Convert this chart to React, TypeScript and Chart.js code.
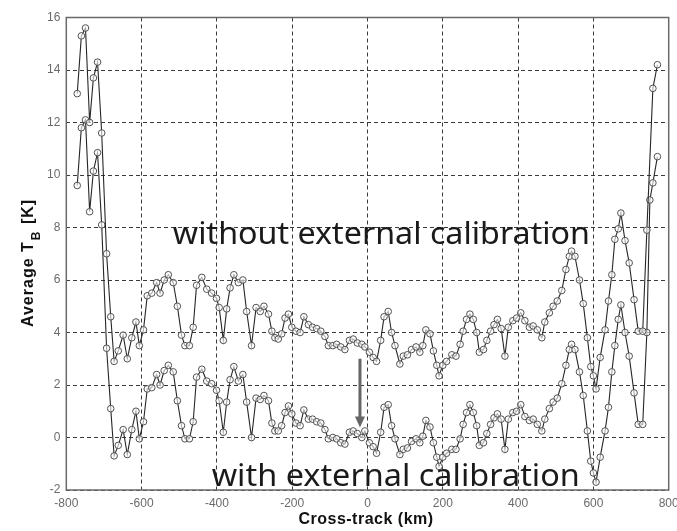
import React, { useEffect, useRef } from "react";
import { Chart, registerables } from "chart.js";

Chart.register(...registerables);

// ---- data ----
const crossTrackKm = [
  -771, -760, -749, -738, -728, -717, -706, -693, -682, -673,
  -662, -649, -638, -626, -615, -606, -595, -585, -573, -560,
  -551, -540, -529, -516, -505, -494, -485, -473, -463, -454,
  -440, -427, -414, -401, -394, -383, -374, -365, -355, -343,
  -331, -321, -308, -296, -285, -275, -263, -254, -246, -237,
  -228, -219, -210, -201, -190, -179, -169, -157, -146, -135,
  -124, -113, -104, -92, -82, -71, -60, -48, -38, -27,
  -15, -7, 5, 15, 24, 35, 44, 55, 64, 73,
  86, 95, 106, 117, 129, 139, 147, 155, 166, 175,
  184, 190, 200, 210, 224, 235, 246, 254, 263, 272,
  281, 290, 297, 308, 317, 327, 336, 345, 355, 365,
  374, 386, 396, 407, 418, 430, 440, 451, 463, 471,
  483, 493, 504, 516, 527, 536, 542, 551, 563, 573,
  584, 593, 600, 607, 618, 631, 640, 649, 657, 666,
  673, 684, 695, 708, 719, 731, 742, 750, 758, 770,
];

const withoutExternalCal: (number | null)[] = [
  13.1, 15.3, 15.6, 12.0, 13.7, 14.3, 11.6, 7.0, 4.6, 2.9,
  3.3, 3.9, 3.0, 3.8, 4.4, 3.5, 4.1, 5.4, 5.5, 5.9,
  5.5, 6.0, 6.2, 5.9, 5.0, 3.9, 3.5, 3.5, 4.2, 5.8,
  6.1, 5.65, 5.5, 5.3, 4.95, 3.7, 4.9, 5.7, 6.2, 5.9,
  6.0, 4.8, 3.5, 4.95, 4.8, 5.0, 4.7, 4.05, 3.8, 3.75,
  3.95, 4.55, 4.7, 4.2, 4.05, 4.0, 4.6, 4.3, 4.2, 4.15,
  4.05, 3.85, 3.5, 3.5, 3.55, 3.45, 3.35, 3.7, 3.75, 3.6,
  3.55, 3.45, 3.25, 3.05, 2.9, 3.7, 4.6, 4.8, 4.0, 3.5,
  2.8, 3.1, 3.15, 3.35, 3.45, 3.25, 3.5, 4.1, 3.95, 3.3,
  2.75, 2.35, 2.75, 2.9, 3.15, 3.1, 3.55, 4.05, 4.5, 4.7,
  4.5, 4.0, 3.25, 3.35, 3.7, 4.05, 4.3, 4.5, 4.15, 3.1,
  4.2, 4.45, 4.55, 4.75, 4.45, 4.2, 4.25, 4.1, 3.8, 4.4,
  4.75, 5.0, 5.2, 5.6, 6.4, 6.9, 7.1, 6.9, 6.0, 5.1,
  3.8, 2.7, 2.35, 1.85, 3.05, 4.1, 5.2, 6.2, 7.55, 7.95,
  8.55, 7.5, 6.65, 5.25, 4.05, 4.05, 7.9, null, 13.3, 14.2,
];

const withExternalCal: (number | null)[] = [
  9.6, 11.8, 12.1, 8.6, 10.15, 10.85, 8.1, 3.4, 1.1, -0.7,
  -0.3, 0.3, -0.65, 0.3, 1.0, -0.05, 0.6, 1.85, 1.9, 2.4,
  2.0, 2.55, 2.75, 2.5, 1.4, 0.45, -0.05, -0.05, 0.6, 2.3,
  2.6, 2.15, 2.05, 1.8, 1.4, 0.2, 1.35, 2.2, 2.7, 2.15,
  2.4, 1.35, 0.0, 1.5, 1.45, 1.6, 1.4, 0.55, 0.25, 0.25,
  0.45, 0.95, 1.2, 0.9, 0.55, 0.45, 1.05, 0.7, 0.7, 0.6,
  0.55, 0.3, -0.05, 0.0, -0.05, -0.2, -0.25, 0.2, 0.25, 0.15,
  0.0, 0.25, -0.2, -0.35, -0.6, 0.2, 1.15, 1.25, 0.45, -0.05,
  -0.65, -0.45, -0.4, -0.15, -0.05, -0.2, 0.05, 0.65, 0.4, -0.2,
  -0.75, -1.1, -0.75, -0.6, -0.45, -0.45, -0.05, 0.5, 0.95, 1.25,
  0.95, 0.45, -0.3, -0.2, 0.15, 0.5, 0.75, 0.9, 0.7, -0.45,
  0.7, 0.95, 1.0, 1.25, 0.8, 0.65, 0.7, 0.5, 0.25, 0.7,
  1.1, 1.35, 1.5, 2.05, 2.75, 3.35, 3.55, 3.35, 2.5, 1.6,
  0.25, -0.9, -1.35, -1.7, -0.75, 0.25, 1.15, 2.5, 3.5, 4.5,
  5.05, 4.0, 3.1, 1.7, 0.5, 0.5, 4.0, 9.05, 9.7, 10.7,
];

const xTickValues = [-800, -600, -400, -200, 0, 200, 400, 600, 800];
const yTickValues = [-2, 0, 2, 4, 6, 8, 10, 12, 14, 16];

const labelWithout = "without external calibration";
const labelWith = "with external calibration";
const xAxisTitle = "Cross-track (km)";
const yAxisTitleMain = "Average T";
const yAxisTitleSub = "B";
const yAxisTitleUnit = " [K]";

// annotation anchors in data units: [xStart, xEnd, baseline y]
const withoutLabelAnchor = [-517, 591, 7.36];
const withLabelAnchor = [-414, 564, -1.84];
// arrow: [x, yFrom, yTo]
const arrowAnchor = [-20, 3.0, 0.38];

const overlayPlugin = {
  id: "overlay",
  afterDraw(chart: any) {
    const { ctx, chartArea, scales } = chart;
    const xs = scales.x;
    const ys = scales.y;
    ctx.save();

    // frame
    ctx.strokeStyle = "#6a6a6a";
    ctx.lineWidth = 1.5;
    ctx.setLineDash([]);
    ctx.strokeRect(
      chartArea.left,
      chartArea.top,
      chartArea.right - chartArea.left,
      chartArea.bottom - chartArea.top
    );

    // annotation labels
    const drawFit = (text: string, anchor: number[]) => {
      ctx.save();
      ctx.font = '30px "Noto Sans", "DejaVu Sans", sans-serif';
      ctx.fillStyle = "#1a1a1a";
      ctx.textBaseline = "alphabetic";
      ctx.textAlign = "left";
      const x0 = xs.getPixelForValue(anchor[0]);
      const x1 = xs.getPixelForValue(anchor[1]);
      const yb = ys.getPixelForValue(anchor[2]);
      const w = ctx.measureText(text).width;
      ctx.translate(x0, yb);
      ctx.scale((x1 - x0) / w, 1);
      ctx.fillText(text, 0, 0);
      ctx.restore();
    };
    drawFit(labelWithout, withoutLabelAnchor);
    drawFit(labelWith, withLabelAnchor);

    // arrow
    const ax = xs.getPixelForValue(arrowAnchor[0]);
    const ay0 = ys.getPixelForValue(arrowAnchor[1]);
    const ay1 = ys.getPixelForValue(arrowAnchor[2]);
    ctx.strokeStyle = "#666";
    ctx.fillStyle = "#666";
    ctx.lineWidth = 3;
    ctx.beginPath();
    ctx.moveTo(ax, ay0);
    ctx.lineTo(ax, ay1 - 9);
    ctx.stroke();
    ctx.beginPath();
    ctx.moveTo(ax - 5, ay1 - 11);
    ctx.lineTo(ax + 5, ay1 - 11);
    ctx.lineTo(ax, ay1);
    ctx.closePath();
    ctx.fill();

    // x axis title
    ctx.fillStyle = "#111";
    ctx.font = 'bold 16px "Liberation Sans", Arial, sans-serif';
    (ctx as any).letterSpacing = "0.5px";
    ctx.textAlign = "center";
    ctx.textBaseline = "middle";
    ctx.fillText(xAxisTitle, 366, 520);

    // y axis title with subscript
    ctx.save();
    ctx.translate(33, 327);
    ctx.rotate(-Math.PI / 2);
    ctx.textAlign = "left";
    ctx.textBaseline = "alphabetic";
    ctx.font = 'bold 16px "Liberation Sans", Arial, sans-serif';
    (ctx as any).letterSpacing = "1px";
    ctx.fillText(yAxisTitleMain, 0, 0);
    const w1 = ctx.measureText(yAxisTitleMain).width;
    ctx.font = 'bold 12px "Liberation Sans", Arial, sans-serif';
    ctx.fillText(yAxisTitleSub, w1 + 1, 7);
    const w2 = ctx.measureText(yAxisTitleSub).width;
    ctx.font = 'bold 16px "Liberation Sans", Arial, sans-serif';
    ctx.fillText(yAxisTitleUnit, w1 + w2 + 2, 0);
    ctx.restore();

    ctx.restore();
  },
};

export default function App() {
  const canvasRef = useRef<HTMLCanvasElement | null>(null);

  useEffect(() => {
    if (!canvasRef.current) return;
    const mk = (vals: (number | null)[]) =>
      crossTrackKm.map((x, i) => ({ x, y: vals[i] }));
    const dsStyle = {
      borderColor: "#262626",
      borderWidth: 1.1,
      pointRadius: 3.3,
      pointBorderWidth: 1,
      pointBorderColor: "#505050",
      pointBackgroundColor: "rgba(255,255,255,0.6)",
      tension: 0,
      spanGaps: true,
      fill: false,
    };
    const chart = new Chart(canvasRef.current, {
      type: "line",
      data: {
        datasets: [
          { label: labelWithout, data: mk(withoutExternalCal), ...dsStyle } as any,
          { label: labelWith, data: mk(withExternalCal), ...dsStyle } as any,
        ],
      },
      options: {
        animation: false,
        responsive: true,
        maintainAspectRatio: false,
        layout: { padding: { left: 8, right: 8.3, top: 17.5, bottom: 0 } },
        plugins: {
          legend: { display: false },
          tooltip: { enabled: false },
        },
        scales: {
          x: {
            type: "linear",
            min: -800,
            max: 800,
            afterBuildTicks: (s: any) => {
              s.ticks = xTickValues.map((v) => ({ value: v }));
            },
            afterFit: (s: any) => {
              s.height = 41;
              s.paddingLeft = 0;
              s.paddingRight = 0;
            },
            ticks: {
              color: "#6a6a6a",
              font: { family: '"Liberation Sans", Arial, sans-serif', size: 12 },
              padding: 6,
              maxRotation: 0,
              autoSkip: false,
            },
            grid: { color: "#3a3a3a", lineWidth: 1, drawTicks: false },
            border: { display: false, dash: [4, 3] },
          },
          y: {
            type: "linear",
            min: -2,
            max: 16,
            afterBuildTicks: (s: any) => {
              s.ticks = yTickValues.map((v) => ({ value: v }));
            },
            afterFit: (s: any) => {
              s.width = 58.3;
              s.paddingTop = 0;
              s.paddingBottom = 0;
            },
            ticks: {
              color: "#6a6a6a",
              font: { family: '"Liberation Sans", Arial, sans-serif', size: 12 },
              padding: 6,
              autoSkip: false,
            },
            grid: { color: "#3a3a3a", lineWidth: 1, drawTicks: false },
            border: { display: false, dash: [4, 3] },
          },
        },
      },
      plugins: [overlayPlugin],
    });
    return () => chart.destroy();
  }, []);

  return (
    <div style={{ position: "fixed", left: 0, top: 0, width: 677, height: 531, background: "#fff" }}>
      <canvas ref={canvasRef} />
    </div>
  );
}
